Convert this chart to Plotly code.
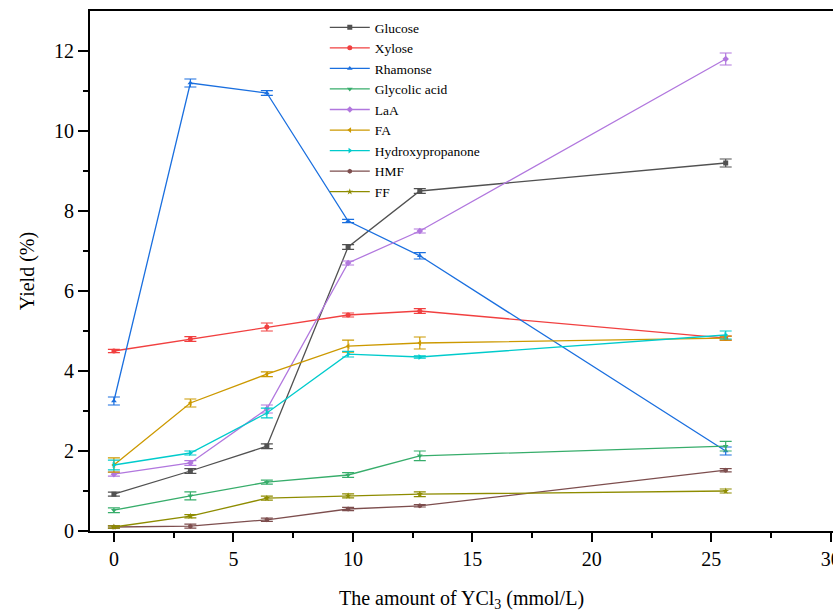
import plotly.graph_objects as go

x_vals = [0, 3.2, 6.4, 9.8, 12.8, 25.6]

names = ["Glucose", "Xylose", "Rhamonse", "Glycolic acid", "LaA", "FA",
         "Hydroxypropanone", "HMF", "FF"]

glucose = [0.92, 1.50, 2.12, 7.10, 8.50, 9.20]
xylose = [4.50, 4.80, 5.10, 5.40, 5.50, 4.82]
rhamonse = [3.25, 11.20, 10.95, 7.75, 6.88, 2.00]
glycolic = [0.52, 0.88, 1.22, 1.40, 1.88, 2.12]
laa = [1.42, 1.70, 3.05, 6.70, 7.50, 11.80]
fa = [1.65, 3.20, 3.92, 4.62, 4.70, 4.82]
hydroxy = [1.65, 1.95, 2.95, 4.42, 4.35, 4.90]
hmf = [0.10, 0.12, 0.28, 0.55, 0.63, 1.52]
ff = [0.10, 0.37, 0.82, 0.88, 0.92, 1.00]

err_glucose = [0.05, 0.06, 0.06, 0.06, 0.06, 0.10]
err_xylose = [0.04, 0.06, 0.10, 0.05, 0.06, 0.05]
err_rhamonse = [0.10, 0.10, 0.06, 0.04, 0.08, 0.10]
err_glycolic = [0.06, 0.10, 0.05, 0.06, 0.12, 0.12]
err_laa = [0.05, 0.06, 0.10, 0.05, 0.05, 0.15]
err_fa = [0.18, 0.10, 0.06, 0.15, 0.15, 0.05]
err_hydroxy = [0.12, 0.05, 0.12, 0.07, 0.03, 0.10]
err_hmf = [0.03, 0.05, 0.04, 0.04, 0.03, 0.04]
err_ff = [0.03, 0.04, 0.05, 0.05, 0.06, 0.05]

series = [glucose, xylose, rhamonse, glycolic, laa, fa, hydroxy, hmf, ff]
errors = [err_glucose, err_xylose, err_rhamonse, err_glycolic, err_laa, err_fa,
          err_hydroxy, err_hmf, err_ff]
colors = ["#515151", "#F14040", "#1A6FDF", "#37AD6B", "#B177DE", "#CC9900",
          "#00CBCC", "#7D4E4E", "#8E8C00"]
symbols = ["square", "circle", "triangle-up", "triangle-down", "diamond",
           "triangle-left", "triangle-right", "hexagon", "star"]

x_ticks = [0, 5, 10, 15, 20, 25, 30]
y_ticks = [0, 2, 4, 6, 8, 10, 12]

fig = go.Figure()
for name, ys, es, c, s in zip(names, series, errors, colors, symbols):
    fig.add_trace(go.Scatter(
        x=x_vals, y=ys, name=name, mode="lines+markers",
        line=dict(color=c, width=1.3),
        marker=dict(symbol=s, size=5, color=c),
        error_y=dict(type="data", array=es, visible=True, color=c,
                     thickness=1.2, width=6),
    ))

font_family = "Liberation Serif, Times New Roman, serif"
fig.update_layout(
    width=833, height=612,
    margin=dict(l=90, r=0, t=11, b=81),
    plot_bgcolor="white", paper_bgcolor="white",
    font=dict(family=font_family, color="black"),
    showlegend=True,
    legend=dict(x=0.316, y=0.998, xanchor="left", yanchor="top",
                bgcolor="rgba(0,0,0,0)", font=dict(size=13.5, family=font_family),
                tracegroupgap=0, itemwidth=40),
)
fig.update_xaxes(
    range=[-1, 30.09], tickmode="array", tickvals=x_ticks,
    ticks="outside", ticklen=9, tickwidth=2, tickcolor="black",
    minor=dict(tickvals=[2.5, 7.5, 12.5, 17.5, 22.5, 27.5], ticks="outside",
               ticklen=5, tickwidth=1.5, tickcolor="black"),
    showline=True, linecolor="black", linewidth=2, mirror=True,
    showgrid=False, zeroline=False, automargin=False,
    ticklabeloverflow="allow",
    tickfont=dict(size=20, family=font_family),
    title=dict(text="The amount of YCl<sub>3</sub> (mmol/L)",
               font=dict(size=20, family=font_family), standoff=24),
)
fig.update_yaxes(
    range=[0, 13], tickmode="array", tickvals=y_ticks,
    ticks="outside", ticklen=10, tickwidth=2, tickcolor="black",
    minor=dict(tickvals=[1, 3, 5, 7, 9, 11], ticks="outside",
               ticklen=5, tickwidth=1.5, tickcolor="black"),
    showline=True, linecolor="black", linewidth=2, mirror=True,
    showgrid=False, zeroline=False, automargin=False,
    tickfont=dict(size=20, family=font_family),
    title=dict(text="Yield (%)", font=dict(size=20, family=font_family),
               standoff=14),
)

fig.write_html(
    "out.html",
    config={"displayModeBar": False},
    post_script="document.body.style.margin='0';document.body.style.overflow='hidden';",
)
